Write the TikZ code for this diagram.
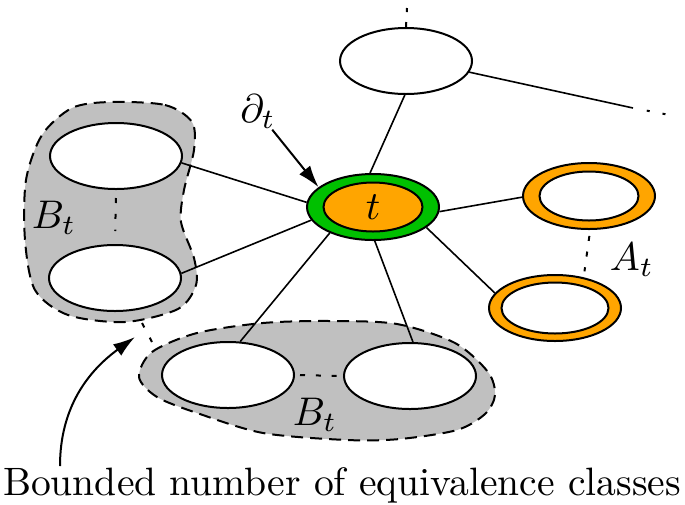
\documentclass[tikz,border=0pt]{standalone}
\usetikzlibrary{shapes.geometric,arrows.meta}
\definecolor{ringorange}{RGB}{255,165,0}
\definecolor{ringgreen}{RGB}{0,192,0}
\definecolor{blobgray}{RGB}{192,192,192}

\begin{document}
\begin{tikzpicture}[x=0.25pt,y=-0.25pt,
  bag/.style={ellipse,draw=black,line width=0.5pt,fill=white,inner sep=0pt,minimum width=33pt,minimum height=16.5pt},
  hole/.style={ellipse,draw=black,line width=0.5pt,fill=white,inner sep=0pt,minimum width=24.75pt,minimum height=12.25pt},
  blob/.style={draw=black,line width=0.5pt,fill=blobgray,dash pattern=on 3pt off 1.75pt},
  dots/.style={line width=0.5pt,dash pattern=on 1.25pt off 2.7pt},
  pointer/.style={-{Latex[length=5.5pt,width=3.5pt]},line width=0.5pt}]
\useasboundingbox (0,0) rectangle (685,504);

\filldraw[blob] plot[smooth cycle] coordinates {(110,102) (165,105) (192,122) (194,150) (184,190) (181,222) (194,258) (196,285) (178,309) (125,322) (68,315) (35,290) (25,240) (26,180) (42,135) (72,108)};
\filldraw[blob] plot[smooth cycle] coordinates {(139,377) (152,352) (197,333) (263,323) (330,321) (397,324) (455,343) (488,372) (495,395) (485,414) (457,430) (400,439) (347,440) (263,433) (197,413) (157,397)};

\node[bag] (top) at (406,61) {};
\node[bag,fill=ringgreen] (t) at (373,207) {};
\node[hole,fill=ringorange] (ti) at (t) {$t$};
\node[bag,fill=ringorange] (r1) at (589,196) {};
\node[hole] (r1i) at (r1) {};
\node[bag,fill=ringorange] (r2) at (555,308) {};
\node[hole,minimum width=26.75pt,minimum height=12.75pt] (r2i) at (r2) {};
\node[bag] (l1) at (116,156) {};
\node[bag] (l2) at (115,278) {};
\node[bag] (d1) at (228,375) {};
\node[bag] (d2) at (410,376) {};

\node (bl) at (54,218) {$B_t$};
\node (bb) at (315,415) {$B_t$};
\node (al) at (632,260) {$A_t$};
\node[inner sep=0pt] (dl) at (258,112) {$\partial_t$};
\node[anchor=base,font=\fontsize{9.9}{12}\selectfont] (txt) at (342,495) {Bounded number of equivalence classes};

\coordinate (topup) at (407,8);
\coordinate (topend) at (633,108);
\coordinate (topfar) at (667,114.5);
\coordinate (gapa) at (142,323);
\coordinate (gapb) at (152,342);
\coordinate (cs) at (60,466);
\coordinate (ce) at (135,337);

\draw (t.95) -- (top.268);
\draw (top.-10) -- (topend);
\draw (t.-4) -- (r1.181);
\draw (t.-21) -- (r2.166);
\draw (t.176) -- (l1.-6);
\draw (t.192) -- (l2.4);
\draw (t.211) -- (d1.70);
\draw (t.-87) -- (d2.85);

\draw[line width=0.5pt,dash pattern=on 1.25pt off 2.5pt] (top.north) -- (topup);
\draw[line width=0.5pt,dash pattern=on 0pt off 3.5pt on 0.75pt off 3.25pt on 0.75pt off 9pt] (topend) -- (topfar);
\draw[dots,shorten <=2pt,shorten >=3.25pt] (l1.south) -- (l2.north);
\draw[dots,shorten <=1.5pt,shorten >=1.5pt] (r1.-88) -- (r2.47);
\draw[dots,shorten <=1.25pt] (d1.east) -- (d2.west);
\draw[line width=0.5pt,dash pattern=on 1.25pt off 2.9pt] (gapa) -- (gapb);

\draw[pointer] (dl) -- (t.160);
\draw[pointer] (cs) to[out=90,in=216] (ce);
\end{tikzpicture}
\end{document}
